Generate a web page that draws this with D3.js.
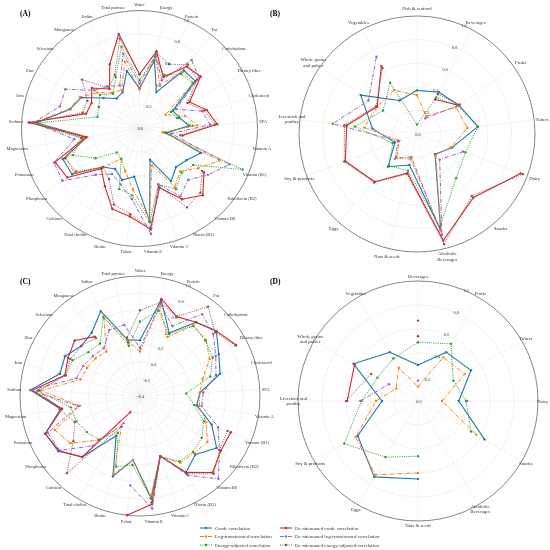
<!DOCTYPE html>
<html>
<head>
<meta charset="utf-8">
<script src="https://cdn.jsdelivr.net/npm/d3@7"></script>
<style>body{margin:0;background:#fff} svg{will-change:transform}</style>
</head>
<body>
<div id="chart"></div>
<script>
// categories
var nutrients = ["Water","Energy","Protein","Fat","Carbohydrate","Dietary fiber","Cholesterol","SFA","Vitamin A","Vitamin (B1)","Riboflavin (B2)","Vitamin B6","Niacin (B3)","Vitamin C","Vitamin E","Folate","Biotin","Total choline","Calcium","Phosphorus","Potassium","Magnesium","Sodium","Iron","Zinc","Selenium","Manganese","Iodine","Total purines"];
var foodsB = ["Fish & seafood","Beverages","Fruits","Tubers","Dairy","Snacks","Alcoholic\nBeverages","Nuts & seeds","Eggs","Soy & products","Livestock and\npoultry","Whole grains\nand pulses","Vegetables"];
var foodsD = ["Beverages","Fruits","Tubers","Dairy","Snacks","Alcoholic\nBeverages","Nuts & seeds","Eggs","Soy & products","Livestock and\npoultry","Whole grains\nand pulses","Vegetables"];
var seriesNames = ["Crude correlation","Log-transformed correlation","Energy-adjusted correlation","De-attenuated crude correlation","De-attenuated log-transformed correlation","De-attenuated energy-adjusted correlation"];

// tick labels
var ticksA = [0, 0.2, 0.4, 0.6, 0.8, 1.0];
var ticksC = [-0.4, -0.2, 0, 0.2, 0.4, 0.6, 0.8, 1.0];

// panel A
var aCrude    = [0.34,0.59,0.34,0.62,0.62,0.32,0.35,0.42,0.23,0.56,0.48,0.45,0.52,0.28,0.79,0.41,0.46,0.40,0.45,0.69,0.70,0.45,0.88,0.61,0.56,0.40,0.32,0.34,0.50];
var aLog      = [0.33,0.63,0.41,0.60,0.60,0.25,0.40,0.49,0.20,0.73,0.60,0.50,0.58,0.33,0.77,0.52,0.38,0.30,0.46,0.67,0.67,0.45,0.90,0.62,0.57,0.47,0.38,0.36,0.58];
var aEnergy   = [0.41,0.62,0.50,0.58,0.59,0.30,0.33,0.45,0.22,0.94,0.55,0.52,0.60,0.50,0.80,0.57,0.54,0.30,0.28,0.45,0.61,0.49,0.86,0.37,0.39,0.44,0.37,0.48,0.71];
var aDeCrude  = [0.46,0.67,0.48,0.66,0.68,0.48,0.59,0.66,0.37,null,0.66,0.78,0.70,0.53,0.86,0.75,0.72,0.57,0.47,0.74,0.77,0.46,0.94,0.47,0.46,0.53,0.42,0.60,0.82];
var aDeLog    = [0.38,0.64,0.45,0.73,0.66,0.35,0.55,0.60,0.27,0.82,0.70,0.60,0.67,0.50,0.90,0.60,0.50,0.45,0.54,0.79,0.78,0.56,0.90,0.70,0.71,0.50,0.45,0.40,0.65];
var aDeEnergy = [0.46,0.66,0.60,0.68,0.64,0.46,0.57,0.64,0.35,null,0.64,0.75,0.78,0.52,0.85,0.73,0.68,0.50,0.45,0.65,0.68,0.50,0.93,0.50,0.50,0.64,0.43,0.50,0.78];

// panel B
var bCrude    = [0.37,0.40,0.43,0.52,0.32,0.23,0.84,0.27,0.37,0.20,0.38,0.58,0.32];
var bLog      = [0.33,0.17,0.40,0.43,0.31,0.24,0.84,0.22,0.26,0.16,0.45,0.41,0.42];
var bEnergy   = [0.08,0.35,0.42,0.52,0.44,0.50,0.81,0.32,0.36,0.22,0.53,0.35,0.49];
var bDeCrude  = [null,0.33,0.43,null,0.94,0.72,0.93,0.34,0.54,0.65,0.60,0.41,0.65];
var bDeLog    = [null,0.15,0.43,null,0.42,0.29,0.88,0.20,0.28,0.17,0.72,0.50,0.74];
var bDeEnergy = [null,0.38,0.44,null,0.96,0.70,0.96,0.35,0.55,0.66,0.62,0.42,0.63];

// panel C
var cCrude    = [0.25,0.75,0.41,0.68,0.77,0.64,0.57,0.30,0.27,0.50,0.68,0.54,0.64,0.34,0.80,0.35,0.59,0.14,0.58,0.75,0.79,0.54,0.88,0.57,0.59,0.50,0.53,0.69,0.27];
var cLog      = [0.12,0.67,0.36,0.63,0.61,0.52,0.36,0.30,0.30,0.43,0.55,0.52,0.51,0.34,0.77,0.35,0.56,0.02,0.31,0.58,0.67,0.31,0.76,0.32,0.30,0.28,0.25,0.60,0.25];
var cEnergy   = [0.47,0.62,0.40,0.63,0.60,0.56,0.45,0.14,0.24,0.40,0.47,0.50,0.49,0.35,0.81,0.41,0.47,0.10,0.30,0.35,0.40,0.42,0.80,0.50,0.49,0.39,0.37,0.62,0.20];
var cDeCrude  = [null,0.76,0.62,0.68,0.77,0.87,null,null,null,0.74,0.74,0.83,0.64,0.34,0.87,1.00,null,-0.18,0.58,0.74,0.79,0.52,0.86,0.51,0.55,0.60,0.47,null,0.24];
var cDeLog    = [0.16,0.70,0.50,0.80,0.72,0.60,0.52,0.34,0.33,0.58,0.72,0.93,0.68,0.34,0.92,0.65,null,-0.03,0.40,0.73,0.76,0.33,0.88,0.37,0.35,0.32,0.30,0.45,0.45];
var cDeEnergy = [0.60,0.72,0.62,0.91,0.75,0.86,null,null,null,0.70,0.72,0.85,0.66,0.34,0.85,null,null,0.02,0.84,0.54,0.42,0.55,0.78,0.50,0.52,0.50,0.45,null,0.30];

// panel D
var dCrude    = [0.30,0.47,0.51,0.34,0.64,null,0.65,0.73,0.58,0.30,0.62,0.47];
var dLog      = [0.12,0.42,0.45,0.20,0.56,null,0.60,0.71,0.60,0.35,0.21,0.32];
var dEnergy   = [0.49,0.55,0.34,0.40,0.51,null,0.46,0.54,0.71,0.47,0.39,0.41];
var dDeCrude  = [0.54,null,null,null,null,null,null,null,null,0.59,0.61,null];
var dDeLog    = [0.17,null,null,0.41,null,null,null,null,null,0.48,0.28,null];
var dDeEnergy = [0.67,null,null,null,null,null,null,null,null,0.60,0.45,null];

var colors = ["#1f77b4","#ff7f0e","#2ca02c","#d62728","#9467bd","#8c564b"];
var dashes = [null,"4,1.5,1,1.5","1,1.2",null,"4,1.5,1,1.5","1,1.2"];
var widths = [1.1,1,1,1.1,1,1];

var svg = d3.select("#chart").append("svg")
    .attr("width", 550)
    .attr("height", 550)
    .style("font-family", "'Liberation Serif','Times New Roman',serif");

function drawRadar(cx, cy, R, cats, series, domain, ticks, fs, off) {
    var g = svg.append("g").attr("transform", "translate(" + cx + "," + cy + ")");
    var n = cats.length;
    var step = 2 * Math.PI / n;
    var r = d3.scaleLinear().domain(domain).range([0, R]);

    // grid rings
    ticks.forEach(function(t) {
        if (r(t) > 0.5 && r(t) < R - 0.5)
            g.append("circle").attr("r", r(t))
                .style("fill", "none").style("stroke", "#e3e3e3").style("stroke-width", 0.5);
    });
    // spokes
    cats.forEach(function(c, i) {
        var a = i * step;
        g.append("line")
            .attr("x1", 0).attr("y1", 0)
            .attr("x2", R * Math.sin(a)).attr("y2", -R * Math.cos(a))
            .style("stroke", "#e8e8e8").style("stroke-width", 0.5);
    });
    g.append("circle").attr("r", R)
        .style("fill", "none").style("stroke", "#666").style("stroke-width", 0.8);

    // tick labels
    var ta = 23.5 * Math.PI / 180;
    ticks.forEach(function(t) {
        g.append("text")
            .attr("x", r(t) * Math.sin(ta) + (r(t) < 1 ? 1 : 0))
            .attr("y", -r(t) * Math.cos(ta))
            .attr("text-anchor", "middle")
            .attr("dominant-baseline", "central")
            .style("font-size", "4.3px")
            .style("fill", "#444")
            .text(d3.format(".1f")(t).replace("\u2212", "-"));
    });

    // category labels
    cats.forEach(function(c, i) {
        var a = i * step;
        var lines = c.split("\n");
        var x = (R + off) * Math.sin(a), y = -(R + off) * Math.cos(a);
        var t = g.append("text")
            .attr("text-anchor", "middle")
            .style("font-size", fs + "px")
            .style("fill", "#333");
        lines.forEach(function(l, k) {
            t.append("tspan")
                .attr("x", x)
                .attr("y", y + (k - (lines.length - 1) / 2) * fs * 1.1 + fs * 0.35)
                .text(l);
        });
    });

    var line = d3.lineRadial()
        .angle(function(d, i) { return i * step; })
        .radius(function(d) { return r(d); })
        .defined(function(d) { return d != null; });

    series.forEach(function(vals, k) {
        var closed = vals.concat([vals[0]]);
        g.append("path")
            .attr("d", line(closed))
            .style("fill", "none")
            .style("stroke", colors[k])
            .style("stroke-width", widths[k])
            .style("stroke-dasharray", dashes[k])
            .style("stroke-linejoin", "round");
        var pts = vals.map(function(v, i) { return {v: v, i: i}; })
            .filter(function(d) { return d.v != null; });
        g.selectAll(null).data(pts).enter().append("circle")
            .attr("cx", function(d) { return r(d.v) * Math.sin(d.i * step); })
            .attr("cy", function(d) { return -r(d.v) * Math.cos(d.i * step); })
            .attr("r", 1.2)
            .style("fill", colors[k]);
    });
}

drawRadar(139.5, 128.5, 118, nutrients,
    [aCrude, aLog, aEnergy, aDeCrude, aDeLog, aDeEnergy], [0, 1], ticksA, 4.5, 6);
drawRadar(417, 134, 118, foodsB,
    [bCrude, bLog, bEnergy, bDeCrude, bDeLog, bDeEnergy], [0, 1], ticksA, 4.8, 8);
drawRadar(140, 396, 120, nutrients,
    [cCrude, cLog, cEnergy, cDeCrude, cDeLog, cDeEnergy], [-0.4, 1], ticksC, 4.5, 6);
drawRadar(418, 401, 120, foodsD,
    [dCrude, dLog, dEnergy, dDeCrude, dDeLog, dDeEnergy], [0, 1], ticksA, 4.8, 4.5);

// panel letters
[["(A)", 20, 16], ["(B)", 270, 16], ["(C)", 20, 284], ["(D)", 270, 284]].forEach(function(p) {
    svg.append("text").attr("x", p[1]).attr("y", p[2])
        .style("font-size", "7.5px").style("font-weight", "bold").text(p[0]);
});

// legend
var legPos = [[200, 528], [200, 536.5], [200, 545], [280, 528], [280, 536.5], [280, 545]];
seriesNames.forEach(function(name, k) {
    var x = legPos[k][0], y = legPos[k][1];
    svg.append("line")
        .attr("x1", x).attr("y1", y).attr("x2", x + 12).attr("y2", y)
        .style("stroke", colors[k])
        .style("stroke-width", widths[k])
        .style("stroke-dasharray", dashes[k]);
    svg.append("circle").attr("cx", x + 6).attr("cy", y).attr("r", 1.2).style("fill", colors[k]);
    svg.append("text").attr("x", x + 15).attr("y", y + 1.7)
        .style("font-size", "5px").style("fill", "#333").text(name);
});
</script>
</body>
</html>
